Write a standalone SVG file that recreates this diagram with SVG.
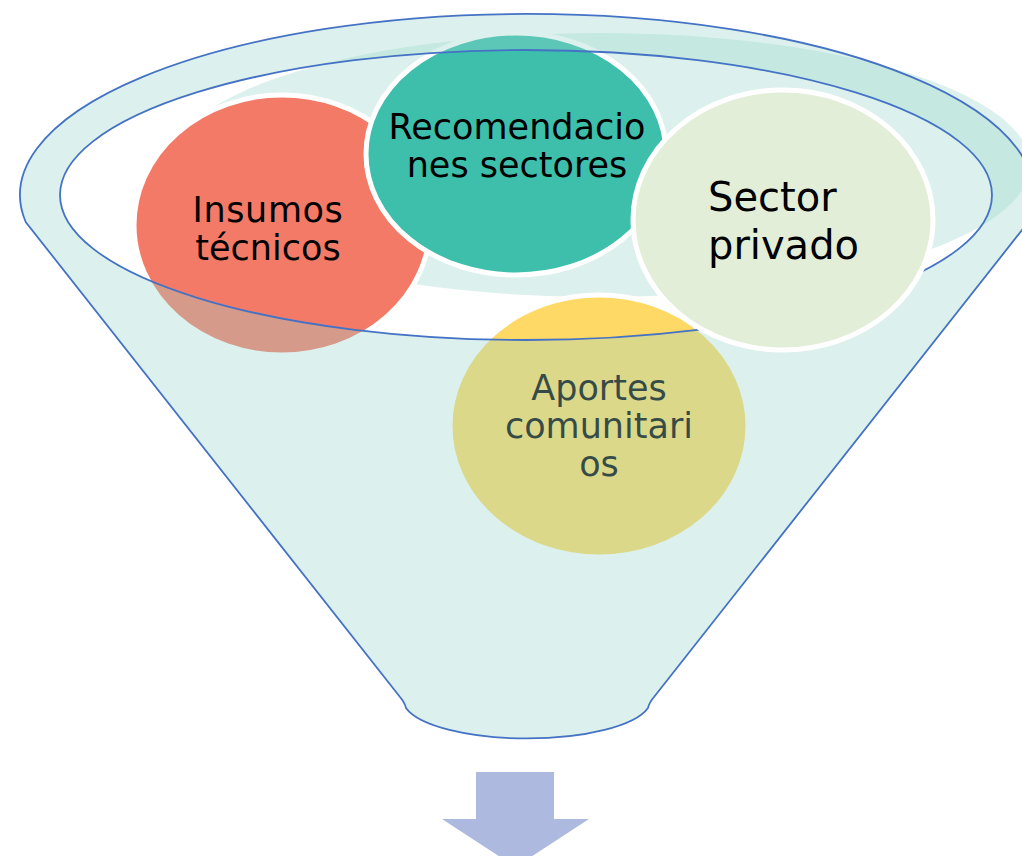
<svg xmlns="http://www.w3.org/2000/svg" width="1022" height="856" viewBox="0 0 1022 856">
<style>
.node{stroke:#ffffff;stroke-width:5}
.lbl{font-family:"DejaVu Sans","Liberation Sans",sans-serif;font-size:35px;fill:#000000;text-anchor:middle}
.tint{fill:#9bd7cc;fill-opacity:0.35}
</style>
<rect width="1022" height="856" fill="#ffffff"/>
<g id="funnel-inner-shade">
<ellipse class="tint" cx="600" cy="165" rx="430" ry="132"/>
</g>
<g id="node-insumos">
<ellipse class="node" cx="282" cy="225" rx="148" ry="130" fill="#f47a68"/>
<text class="lbl" x="268" y="222" letter-spacing="0.6">Insumos</text>
<text class="lbl" x="268" y="260">técnicos</text>
</g>
<g id="node-recomendaciones">
<ellipse class="node" cx="516" cy="154" rx="150" ry="121" fill="#3dbfac"/>
<text class="lbl" x="517" y="139">Recomendacio</text>
<text class="lbl" x="517" y="177">nes sectores</text>
</g>
<g id="node-aportes">
<ellipse class="node" cx="599" cy="426" rx="149" ry="131" fill="#ffd966"/>
<text class="lbl" x="599" y="400">Aportes</text>
<text class="lbl" x="599" y="438">comunitari</text>
<text class="lbl" x="599" y="476">os</text>
</g>
<g id="funnel">
<path class="tint" fill-rule="evenodd" stroke="#4472c4" stroke-width="1.8" stroke-opacity="1" d="M 25.7 222 A 507 181 0 1 1 1028.3 222 L 654 697 Q 649 703 648 708 A 124 39 0 0 1 406 708 Q 405 703 400 697 Z M 60 195 A 466 145 0 1 0 992 195 A 466 145 0 1 0 60 195 Z"/>
</g>
<g id="node-sector-privado">
<ellipse class="node" cx="783" cy="220" rx="150" ry="130" fill="#e2eed8"/>
<text class="lbl" x="708" y="211" style="font-size:40px;text-anchor:start">Sector</text>
<text class="lbl" x="708" y="259" style="font-size:40px;text-anchor:start">privado</text>
</g>
<g id="connectors">
<path d="M 476 772 L 554 772 L 554 819 L 589 819 L 515.5 867 L 442 819 L 476 819 Z" fill="#adb9df"/>
</g>
</svg>
